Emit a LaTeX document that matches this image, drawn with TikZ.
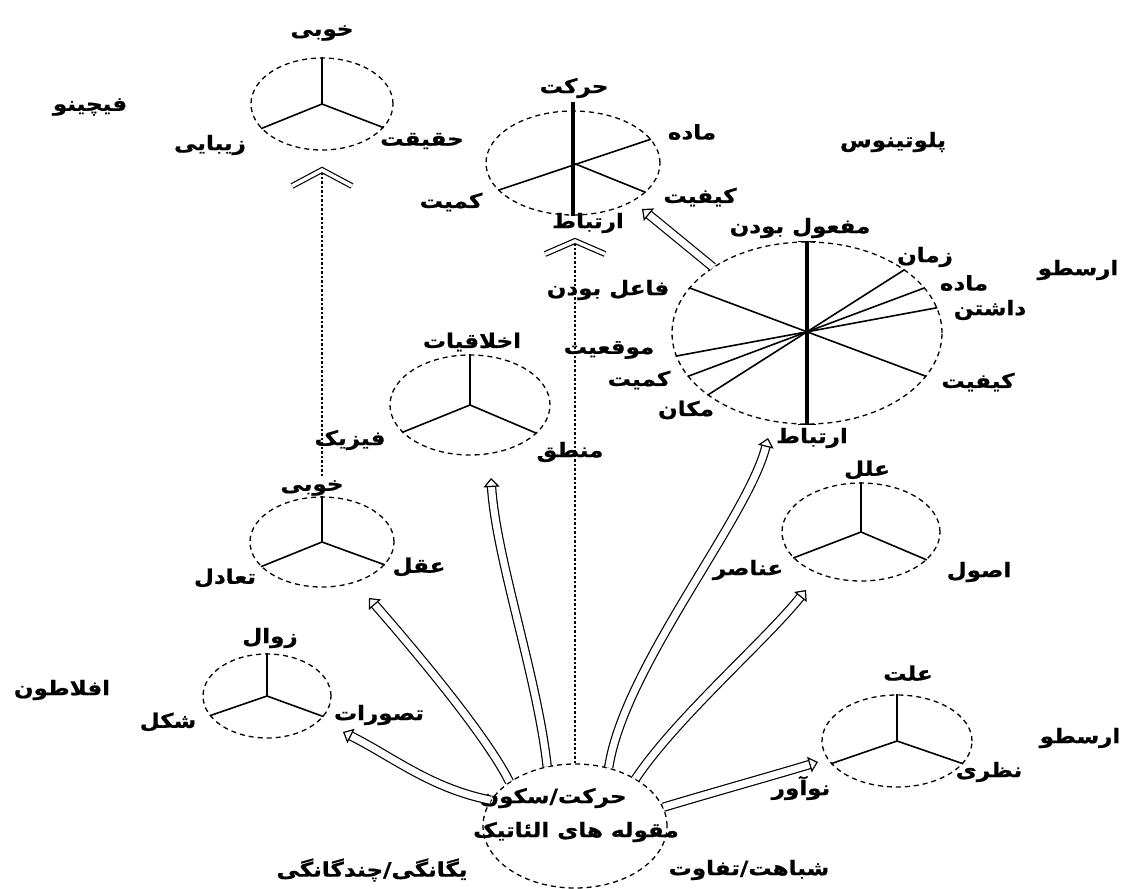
\documentclass[tikz,border=0pt]{standalone}
\usepackage{fontspec}
\usetikzlibrary{shapes.geometric,arrows.meta,calc}
\TeXXeTstate=1
\newfontfamily\arabicfont[Script=Arabic,FakeStretch=1.15,FakeBold=0.8]{DejaVu Sans Bold}
\newcommand\fatxt[1]{{\arabicfont\beginR #1\endR}}
\begin{document}
\begin{tikzpicture}[x=1pt,y=-1pt,
  circ/.style={draw, ellipse, dash pattern=on 5pt off 4pt, line width=1.3pt, inner sep=0pt},
  spoke/.style={line width=1.6pt},
  bar/.style={line width=2.8pt},
  bigbar/.style={line width=3.6pt},
  lbl/.style={font=\fontsize{20}{23}\selectfont, inner sep=1pt},
  dotline/.style={dash pattern=on 2.5pt off 2pt, line width=1.4pt},
  harrow/.style={double=white, double distance=7pt, line width=1.2pt, -{Triangle[open,length=9pt,width=16pt]}},
  chev/.style={double=white, double distance=3.5pt, line width=1.2pt},
]
\useasboundingbox (0,0) rectangle (1136,889);
\fill[white] (0,0) rectangle (1136,889);

% ---------- circles ----------
\node[circ, minimum width=142pt, minimum height=92pt] (T1) at (322,104) {};
\node[circ, minimum width=174pt, minimum height=104pt] (T2) at (573,163) {};
\node[circ, minimum width=270pt, minimum height=182pt] (B) at (807,333) {};
\node[circ, minimum width=160pt, minimum height=100pt] (D) at (470,405) {};
\node[circ, minimum width=144pt, minimum height=90pt] (E) at (322,542) {};
\node[circ, minimum width=158pt, minimum height=98pt] (F) at (861,532) {};
\node[circ, minimum width=128pt, minimum height=84pt] (G) at (267,696) {};
\node[circ, minimum width=150pt, minimum height=92pt] (H) at (897,741) {};
\node[circ, minimum width=184pt, minimum height=124pt] (C0) at (575,826) {};

% ---------- spokes ----------
\draw[bar] (T1.center) -- (T1.north);
\draw[spoke] (T1.center) -- (T1.202);
\draw[spoke] (T1.center) -- (T1.339);

\draw[bigbar] ($(T2.north)+(0,-8)$) -- (T2.south);
\draw[spoke] (T2.200) -- (T2.17);
\draw[spoke] (T2.center) -- (T2.338);

\draw[bigbar] (B.north) -- (B.south);
\draw[spoke] ($(B.north)+(-9,0)$) -- ($(B.north)+(9,0)$);
\draw[spoke] ($(B.south)+(-9,0)$) -- ($(B.south)+(9,0)$);
\draw[spoke] (B.159) -- (B.340);
\draw[spoke] (B.190) -- (B.11);
\draw[spoke] (B.200) -- (B.21);
\draw[spoke] (B.212) -- (B.33);

\draw[bar] (D.center) -- (D.north);
\draw[spoke] (D.center) -- (D.202);
\draw[spoke] (D.center) -- (D.337);

\draw[bar] (E.center) -- (E.north);
\draw[spoke] (E.center) -- (E.202);
\draw[spoke] (E.center) -- (E.340);

\draw[bar] (F.center) -- (F.north);
\draw[spoke] (F.center) -- (F.201);
\draw[spoke] (F.center) -- (F.337);

\draw[spoke] (G.center) -- (G.north);
\draw[spoke] (G.center) -- (G.199);
\draw[spoke] (G.center) -- (G.340);

\draw[bar] (H.center) -- (H.north);
\draw[spoke] (H.center) -- (H.199);
\draw[spoke] (H.center) -- (H.341);

% ---------- labels ----------
\node[lbl] (l1a) at (322,33) {\fatxt{خوبی}};
\node[lbl] (l1b) at (210,145) {\fatxt{زیبایی}};
\node[lbl] (l1c) at (422,141) {\fatxt{حقیقت}};
\node[lbl] (l1d) at (90,107) {\fatxt{فیچینو}};

\node[lbl] (l2a) at (574,88) {\fatxt{حرکت}};
\node[lbl] (l2b) at (692,132) {\fatxt{ماده}};
\node[lbl] (l2c) at (700,197) {\fatxt{کیفیت}};
\node[lbl] (l2d) at (451,202) {\fatxt{کمیت}};
\node[lbl] (l2e) at (588,223) {\fatxt{ارتباط}};
\node[lbl] (l2f) at (893,142) {\fatxt{پلوتینوس}};

\node[lbl] (lba) at (800,228) {\fatxt{مفعول بودن}};
\node[lbl] (lbb) at (925,257) {\fatxt{زمان}};
\node[lbl] (lbc) at (964,283) {\fatxt{ماده}};
\node[lbl] (lbd) at (990,310) {\fatxt{داشتن}};
\node[lbl] (lbe) at (978,382) {\fatxt{کیفیت}};
\node[lbl] (lbf) at (812,438) {\fatxt{ارتباط}};
\node[lbl] (lbg) at (686,410) {\fatxt{مکان}};
\node[lbl] (lbh) at (639,380) {\fatxt{کمیت}};
\node[lbl] (lbi) at (609,350) {\fatxt{موقعیت}};
\node[lbl] (lbj) at (608,290) {\fatxt{فاعل بودن}};
\node[lbl] (lbk) at (1078,270) {\fatxt{ارسطو}};

\node[lbl] (lda) at (472,342) {\fatxt{اخلاقیات}};
\node[lbl] (ldb) at (350,440) {\fatxt{فیزیک}};
\node[lbl] (ldc) at (570,452) {\fatxt{منطق}};

\node[lbl] (lea) at (312,488) {\fatxt{خوبی}};
\node[lbl] (leb) at (419,567) {\fatxt{عقل}};
\node[lbl] (lec) at (225,578) {\fatxt{تعادل}};

\node[lbl] (lfa) at (867,470) {\fatxt{علل}};
\node[lbl] (lfb) at (748,570) {\fatxt{عناصر}};
\node[lbl] (lfc) at (979,572) {\fatxt{اصول}};

\node[lbl] (lga) at (270,638) {\fatxt{زوال}};
\node[lbl] (lgb) at (168,722) {\fatxt{شکل}};
\node[lbl] (lgc) at (379,715) {\fatxt{تصورات}};
\node[lbl] (lgd) at (62,690) {\fatxt{افلاطون}};

\node[lbl] (lha) at (908,673) {\fatxt{علت}};
\node[lbl] (lhb) at (989,772) {\fatxt{نظری}};
\node[lbl] (lhc) at (801,788) {\fatxt{نوآور}};
\node[lbl] (lhd) at (1080,738) {\fatxt{ارسطو}};

\node[lbl] (lca) at (553,798) {\fatxt{حرکت/سکون}};
\node[lbl] (lcb) at (576,832) {\fatxt{مقوله های الئاتیک}};
\node[lbl] (lcc) at (372,870) {\fatxt{یگانگی/چندگانگی}};
\node[lbl] (lcd) at (749,870) {\fatxt{شباهت/تفاوت}};

% ---------- dotted lines with chevrons ----------
\coordinate (ch1) at (322,170);
\coordinate (ch2) at (575,241);
\draw[dotline] (E.north) ++(0,-20) coordinate (d1s) (d1s) -- (ch1);
\draw[dotline] (C0.north) -- (ch2);
\draw[chev] ($(ch1)+(-30,16)$) -- (ch1) -- ($(ch1)+(30,16)$);
\draw[chev] ($(ch2)+(-30,13)$) -- (ch2) -- ($(ch2)+(30,13)$);

% ---------- hollow arrows ----------
\coordinate (tG) at (343,732);
\coordinate (tE) at (369,598);
\coordinate (tD) at (491,478);
\coordinate (tB) at (768,438);
\coordinate (tF) at (806,590);
\coordinate (tH) at (818,762);
\coordinate (tT2) at (642,209);
\draw[harrow] (C0.163) .. controls +(-60,-12) and +(50,25) .. (tG);
\draw[harrow] (C0.146) .. controls +(-25,-50) and +(35,40) .. (tE);
\draw[harrow] (C0.115) .. controls +(-10,-90) and +(5,80) .. (tD);
\draw[harrow] (C0.60) .. controls +(15,-100) and +(-20,80) .. (tB);
\draw[harrow] (C0.38) .. controls +(40,-60) and +(-40,50) .. (tF);
\draw[harrow] (C0.12) .. controls +(50,-15) and +(-50,15) .. (tH);
\draw[harrow] (B.145) -- (tT2);
\end{tikzpicture}
\end{document}
